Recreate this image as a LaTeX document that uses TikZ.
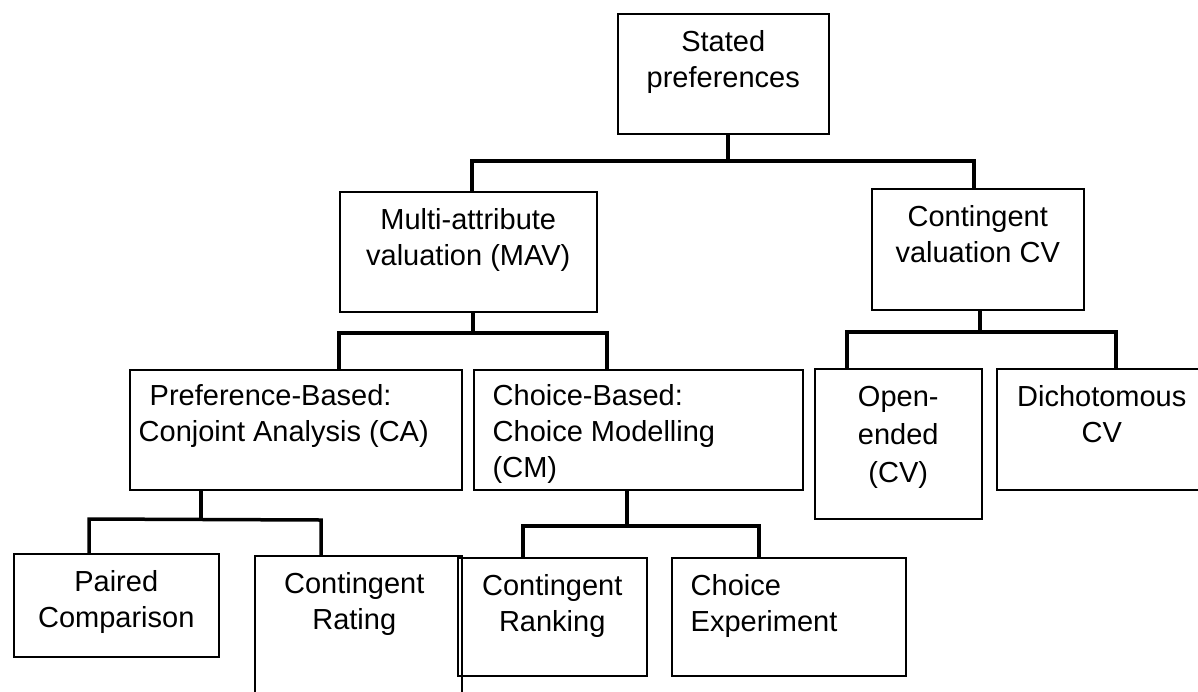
\documentclass[tikz,border=0pt]{standalone}
\usepackage{fontspec}
\setmainfont{Liberation Sans}
\usetikzlibrary{calc}
\tikzset{
  text drop/.store in=\TextDrop,
  text indent/.store in=\TextIndent,
  text drop=12.8pt,
  text indent=19.5pt,
  box/.style={draw, line width=1.5pt, anchor=north west, inner sep=0pt},
  boxtext/.style={inner sep=0pt, align=center, anchor=north,
    font=\fontsize{29}{36}\selectfont},
  boxtextl/.style={boxtext, align=left, anchor=north west},
  link/.style={line width=3.5pt}
}

\begin{document}
\begin{tikzpicture}[x=1pt, y=-1pt, line join=miter]

  % Page frame (pixel units, y downwards)
  \useasboundingbox (0,0) rectangle (1198,691);
  \clip (0,0) rectangle (1198,691);

  % Boxes (north west corners)
  \node[box, minimum width=211pt, minimum height=120pt] (sp)   at (617,13)  {};
  \node[box, minimum width=257pt, minimum height=120pt] (mav)  at (339,191) {};
  \node[box, minimum width=212pt, minimum height=121pt] (cv)   at (871,188) {};
  \node[box, minimum width=332pt, minimum height=120pt] (pb)   at (129,369) {};
  \node[box, minimum width=329pt, minimum height=120pt] (cb)   at (473,369) {};
  \node[box, minimum width=167pt, minimum height=150pt] (oe)   at (814,368) {};
  \node[box, minimum width=210pt, minimum height=121pt] (dcv)  at (996,368) {};
  \node[box, minimum width=205pt, minimum height=103pt] (pc)   at (13,553)  {};
  \node[box, minimum width=207pt, minimum height=200pt] (crat) at (254,555) {}; % runs off the page
  \node[box, minimum width=189pt, minimum height=118pt] (crk)  at (457,557) {};
  \node[box, minimum width=234pt, minimum height=118pt] (ce)   at (671,557) {};

  % Texts
  \node[boxtext] (sp-t)   at ([yshift=-\TextDrop]sp.north)   {\strut Stated\\preferences};
  \node[boxtext] (mav-t)  at ([yshift=-\TextDrop]mav.north)  {\strut Multi-attribute\\valuation (MAV)};
  \node[boxtext] (cv-t)   at ([yshift=-\TextDrop]cv.north)   {\strut Contingent\\valuation CV};
  \node[boxtextl] (pb-t)  at ([xshift=9.5pt, yshift=-\TextDrop+2pt]pb.north west)
    {\strut\hspace*{11pt}Preference-Based:\\Conjoint Analysis (CA)};
  \node[boxtextl] (cb-t)  at ([xshift=\TextIndent, yshift=-\TextDrop+2pt]cb.north west)
    {\strut Choice-Based:\\Choice Modelling\\(CM)};
  \node[boxtext] (oe-t)   at ([yshift=-\TextDrop]oe.north)   {\strut Open-\\[2pt]ended\\[2pt](CV)};
  \node[boxtext] (dcv-t)  at ([yshift=-\TextDrop]dcv.north)  {\strut Dichotomous\\CV};
  \node[boxtext] (pc-t)   at ([yshift=-\TextDrop]pc.north)   {\strut Paired\\Comparison};
  \node[boxtext] (crat-t) at ([xshift=-4pt, yshift=-\TextDrop]crat.north) {\strut Contingent\\Rating};
  \node[boxtext] (crk-t)  at ([yshift=-\TextDrop]crk.north)  {\strut Contingent\\Ranking};
  \node[boxtextl] (ce-t)  at ([xshift=\TextIndent, yshift=-\TextDrop]ce.north west)
    {\strut Choice\\Experiment};

  % Junctions of the brackets
  \coordinate (j0) at (728,161);  \coordinate (j0l) at (472,161);  \coordinate (j0r) at (974,161);
  \coordinate (j1) at (473,333);  \coordinate (j1l) at (339,333);  \coordinate (j1r) at (607,333);
  \coordinate (j2) at (980,332);  \coordinate (j2l) at (847,332);  \coordinate (j2r) at (1116,332);
  \coordinate (j3) at (201,519);  \coordinate (j3l) at (89,519);   \coordinate (j3r) at (321,520);
  \coordinate (j4) at (627,526);  \coordinate (j4l) at (523,526);  \coordinate (j4r) at (759,526);

  % Stated preferences
  \draw[link] (sp.south -| j0) -- (j0);
  \draw[link] (mav.north -| j0l) -- (j0l) -- (j0r) -- (cv.north -| j0r);

  % MAV
  \draw[link] (mav.south -| j1) -- (j1);
  \draw[link] (pb.north -| j1l) -- (j1l) -- (j1r) -- (cb.north -| j1r);

  % CV
  \draw[link] (cv.south -| j2) -- (j2);
  \draw[link] (oe.north -| j2l) -- (j2l) -- (j2r) -- (dcv.north -| j2r);

  % CA
  \draw[link] (pb.south -| j3) -- (j3);
  \draw[link] (pc.north -| j3l) -- (j3l) -- (j3r) -- (crat.north -| j3r);

  % CM
  \draw[link] (cb.south -| j4) -- (j4);
  \draw[link] (crk.north -| j4l) -- (j4l) -- (j4r) -- (ce.north -| j4r);

\end{tikzpicture}
\end{document}
